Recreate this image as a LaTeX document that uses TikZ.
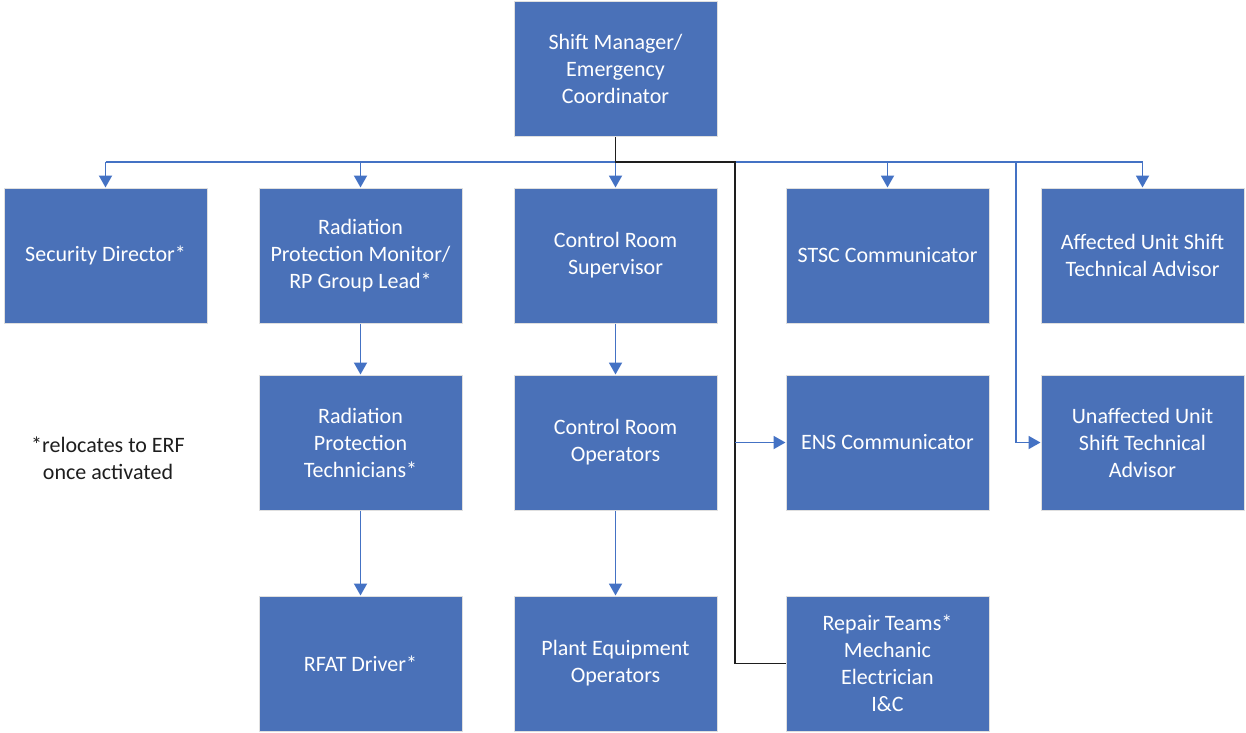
\documentclass[tikz,border=0pt]{standalone}
\usepackage{fontspec}
\setmainfont{Carlito}
\usetikzlibrary{arrows.meta,calc}
\definecolor{boxblue}{HTML}{4A71B8}
\definecolor{lineblue}{HTML}{4472C4}
\definecolor{dark}{HTML}{1E1E1E}
\tikzset{
  box/.style={rectangle, fill=boxblue, draw=white!75!gray, line width=1pt,
    minimum width=203pt, minimum height=135pt, inner sep=0pt, align=center,
    text=white, font=\fontsize{22}{27}\selectfont},
  bl/.style={draw=lineblue, line width=1.9pt},
  dk/.style={draw=dark, line width=1.5pt},
  tip/.style={-{Triangle[width=13pt,length=12pt]}}
}
\begin{document}
\begin{tikzpicture}[x=1pt,y=-1pt]
\useasboundingbox (0,0) rectangle (1246,732);
% boxes
\node[box] (top) at (615.5,69) {Shift Manager/\\Emergency\\Coordinator};
\node[box] (sec) at (105.5,255.5) {Security Director*};
\node[box] (rpm) at (360.5,255.5) {Radiation\\Protection Monitor/\\RP Group Lead*};
\node[box] (crs) at (615.5,255.5) {Control Room\\Supervisor};
\node[box] (stsc) at (887.5,255.5) {STSC Communicator};
\node[box] (aff) at (1142.5,255.5) {Affected Unit Shift\\Technical Advisor};
\node[box] (rpt) at (360.5,442.5) {Radiation\\Protection\\Technicians*};
\node[box] (cro) at (615.5,442.5) {Control Room\\Operators};
\node[box] (ens) at (887.5,442.5) {ENS Communicator};
\node[box] (unaf) at (1142.5,442.5) {Unaffected Unit\\Shift Technical\\Advisor};
\node[box] (rfat) at (360.5,663.5) {RFAT Driver*};
\node[box] (peo) at (615.5,663.5) {Plant Equipment\\Operators};
\node[box] (rep) at (887.5,663.5) {Repair Teams*\\Mechanic\\Electrician\\I\&C};
\node[align=center, text=dark, font=\fontsize{22}{27}\selectfont] (note) at (108,458) {*relocates to ERF\\once activated};
% helper coordinates
\coordinate (hb) at (0,162);
\coordinate (vx) at (735,0);
\coordinate (ux) at (1016,0);
% blue bus
\draw[bl] (sec.north |- hb) -- (aff.north |- hb);
\foreach \n in {sec,rpm,crs,stsc,aff}{
  \draw[bl,tip] (\n.north |- hb) -- (\n.north);
}
\draw[bl,tip] (ux |- hb) -- (ux |- unaf.west) -- (unaf.west);
% dark line
\draw[dk] (top.south) -- (top.south |- hb) -- (vx |- hb) -- (vx |- rep.west) -- (rep.west);
\draw[bl,tip] (vx |- ens.west) -- (ens.west);
% vertical chains
\draw[bl,tip] (rpm.south) -- (rpt.north);
\draw[bl,tip] (rpt.south) -- (rfat.north);
\draw[bl,tip] (crs.south) -- (cro.north);
\draw[bl,tip] (cro.south) -- (peo.north);
\end{tikzpicture}
\end{document}
